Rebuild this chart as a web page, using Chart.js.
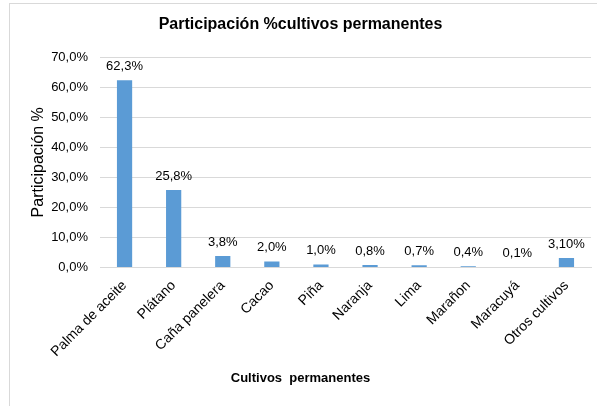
<!DOCTYPE html>
<html>
<head>
<meta charset="utf-8">
<script src="https://cdn.jsdelivr.net/npm/chart.js@4"></script>
<style>
  body { margin: 0; background: #fff; }
  #wrap { width: 597px; height: 406px; }
</style>
</head>
<body>
<div id="wrap"><canvas id="cultivosChart" width="597" height="406"></canvas></div>
<script>
// Chart data
const categories = ["Palma de aceite", "Plátano", "Caña panelera", "Cacao", "Piña", "Naranja", "Lima", "Marañon", "Maracuyá", "Otros cultivos"];
const participation = [62.3, 25.8, 3.8, 2.0, 1.0, 0.8, 0.7, 0.4, 0.1, 3.1];
const labelDecimals = [1, 1, 1, 1, 1, 1, 1, 1, 1, 2];
const yMin = 0;
const yMax = 70;
const yStep = 10;

const FONT = "'Liberation Sans', Arial, sans-serif";

function pct(v, d) {
  return v.toFixed(d).replace(".", ",") + "%";
}

// Light frame around the chart (left and top edges visible)
const framePlugin = {
  id: "frame",
  beforeDraw(chart) {
    const ctx = chart.ctx;
    ctx.save();
    ctx.fillStyle = "#fff";
    ctx.fillRect(0, 0, chart.width, chart.height);
    ctx.strokeStyle = "#d9d9d9";
    ctx.lineWidth = 1;
    ctx.strokeRect(9.5, 3.5, 600, 420);
    ctx.restore();
  },
};

// Value labels above bars
const valueLabels = {
  id: "valueLabels",
  afterDatasetsDraw(chart) {
    const ctx = chart.ctx;
    const meta = chart.getDatasetMeta(0);
    ctx.save();
    ctx.font = "13px " + FONT;
    ctx.fillStyle = "#000";
    ctx.textAlign = "center";
    ctx.textBaseline = "alphabetic";
    meta.data.forEach((bar, i) => {
      ctx.fillText(pct(participation[i], labelDecimals[i]), bar.x, bar.y - 10);
    });
    ctx.restore();
  },
};

new Chart(document.getElementById("cultivosChart"), {
  type: "bar",
  data: {
    labels: categories,
    datasets: [
      {
        data: participation,
        backgroundColor: "#5b9bd5",
        categoryPercentage: 1,
        barPercentage: 0.31,
      },
    ],
  },
  options: {
    responsive: false,
    animation: false,
    devicePixelRatio: 1,
    layout: { padding: { left: 10, right: 6, top: 0, bottom: 0 } },
    plugins: {
      legend: { display: false },
      tooltip: { enabled: false },
      title: {
        display: true,
        text: "Participación %cultivos permanentes",
        color: "#000",
        font: { family: FONT, size: 16, weight: "bold" },
        padding: { top: 15, bottom: 23 },
      },
      subtitle: {
        display: true,
        position: "bottom",
        text: "Cultivos  permanentes",
        color: "#000",
        font: { family: FONT, size: 13, weight: "bold" },
        padding: { top: 8, bottom: 20 },
      },
    },
    scales: {
      x: {
        grid: { display: false, drawTicks: false },
        border: { color: "#d9d9d9" },
        ticks: {
          color: "#000",
          font: { family: FONT, size: 14 },
          minRotation: 45,
          maxRotation: 45,
          autoSkip: false,
          padding: 10,
        },
        afterFit: (scale) => { scale.height = 95; },
      },
      y: {
        min: yMin,
        max: yMax,
        grid: { color: "#d9d9d9", drawTicks: false },
        border: { display: false },
        ticks: {
          stepSize: yStep,
          color: "#000",
          font: { family: FONT, size: 13 },
          padding: 12,
          callback: (v) => pct(v, 1),
        },
        title: {
          display: true,
          text: "Participación %",
          color: "#000",
          font: { family: FONT, size: 16 },
          padding: { top: 19, bottom: 0 },
        },
        afterFit: (scale) => { scale.width = 90; },
      },
    },
  },
  plugins: [framePlugin, valueLabels],
});
</script>
</body>
</html>
